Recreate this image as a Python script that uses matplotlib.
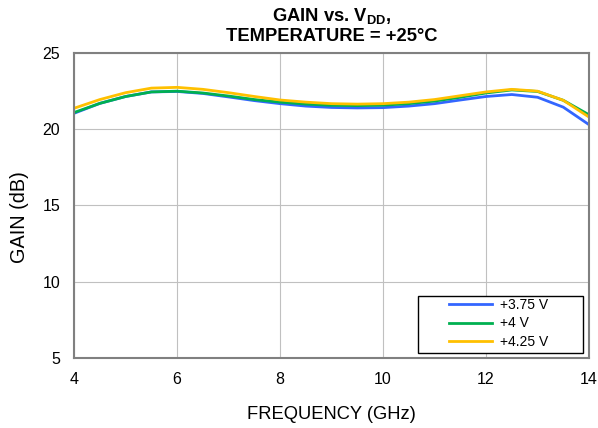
import matplotlib
matplotlib.use("Agg")
import matplotlib.pyplot as plt
from matplotlib.patches import Rectangle

plt.rcParams['font.family'] = ['Liberation Sans', 'DejaVu Sans']
plt.rcParams['mathtext.fontset'] = 'custom'
plt.rcParams['mathtext.bf'] = 'Liberation Sans:bold'

# frecuencia (GHz) y ganancia (dB) para cada VDD
freq = [4, 4.5, 5, 5.5, 6, 6.5, 7, 7.5, 8, 8.5, 9, 9.5, 10, 10.5, 11, 11.5, 12, 12.5, 13, 13.5, 14]
gain_375 = [21.05, 21.7, 22.15, 22.45, 22.48, 22.35, 22.12, 21.88, 21.68, 21.52, 21.43, 21.4, 21.42,
            21.52, 21.68, 21.92, 22.15, 22.28, 22.1, 21.45, 20.3]
gain_400 = [21.1, 21.7, 22.15, 22.45, 22.5, 22.38, 22.18, 21.95, 21.78, 21.65, 21.57, 21.55, 21.58,
            21.68, 21.85, 22.1, 22.38, 22.58, 22.48, 21.9, 20.95]
gain_425 = [21.38, 21.95, 22.4, 22.7, 22.75, 22.62, 22.4, 22.15, 21.92, 21.78, 21.68, 21.65, 21.68,
            21.78, 21.95, 22.2, 22.45, 22.62, 22.5, 21.9, 20.8]
etiquetas = ['+3.75 V', '+4 V', '+4.25 V']
colores = ['#3366FF', '#00B050', '#FFC000']

fig = plt.figure(figsize=(5.98, 4.28), dpi=100)
ax = fig.add_axes([0.124, 0.164, 0.861, 0.712])

for g, lab, c in zip([gain_375, gain_400, gain_425], etiquetas, colores):
    ax.plot(freq, g, color=c, linewidth=2, label=lab)

ax.set_xlim(4, 14)
ax.set_ylim(5, 25)
ax.set_xticks([4, 6, 8, 10, 12, 14])
ax.set_yticks([5, 10, 15, 20, 25])
ax.grid(True, color='#C0C0C0', linewidth=0.8)
ax.tick_params(axis='y', length=0, labelsize=11.5, pad=10)
ax.tick_params(axis='x', length=0, labelsize=11.5, pad=10)
for s in ax.spines.values():
    s.set_color('#808080')
    s.set_linewidth(1.5)

ax.set_xlabel('FREQUENCY (GHz)', fontsize=13.2, labelpad=14)
ax.set_ylabel('GAIN (dB)', fontsize=14.3)
ax.yaxis.set_label_coords(-0.088, 0.462)

# titulo en dos lineas
xc = 0.124 + 0.861 / 2
fig.text(xc, 0.9516, 'GAIN vs. V$_{\\mathbf{DD}}$,', ha='center', va='baseline',
         fontsize=13.2, fontweight='bold')
fig.text(xc, 0.9049, 'TEMPERATURE = +25°C', ha='center', va='baseline',
         fontsize=13.2, fontweight='bold')

# recuadro de la leyenda (estilo Excel, con hueco a la derecha)
ax.add_patch(Rectangle((0.668, 0.016), 0.32, 0.187, transform=ax.transAxes, facecolor='white',
                       edgecolor='black', linewidth=1, zorder=4))
leg = ax.legend(loc='center left', fontsize=10, frameon=False, borderpad=0, borderaxespad=0,
                handlelength=3.1, handletextpad=0.55, labelspacing=0.3,
                bbox_to_anchor=(0.728, 0.113))
leg.set_zorder(5)

fig.savefig('out.png', dpi=100)
